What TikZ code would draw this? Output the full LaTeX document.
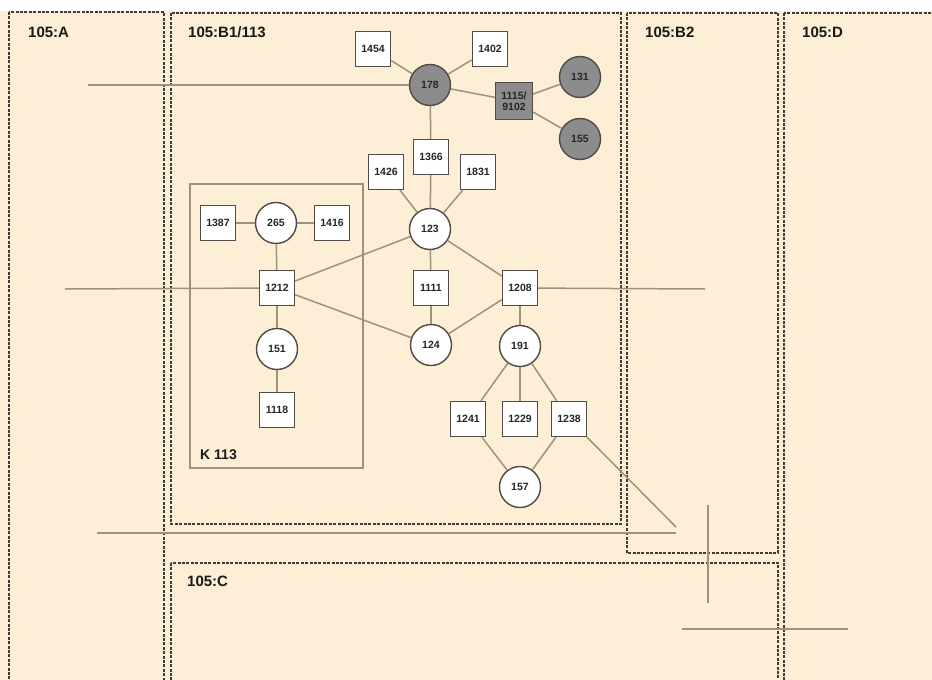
\documentclass[tikz,border=0pt]{standalone}
\usepackage{fontspec}
\setmainfont{Liberation Sans}
\definecolor{bg}{RGB}{253,239,213}
\definecolor{edgecol}{RGB}{160,146,120}
\definecolor{bordercol}{RGB}{65,60,55}
\definecolor{nodeborder}{RGB}{80,75,70}
\definecolor{grayfill}{RGB}{140,140,140}
\tikzset{
  region/.style={draw=bordercol, line width=2.6, dash pattern=on 3pt off 1.4pt},
  regionlabel/.style={anchor=base west, font=\fontsize{15}{15}\selectfont\bfseries, text=black!90, inner sep=0},
  sq/.style={draw=nodeborder, fill=white, minimum size=35, inner sep=0, line width=1.4, font=\fontsize{10.5}{11}\selectfont\bfseries, text=black!85},
  gsq/.style={sq, fill=grayfill, minimum size=37, align=center, font=\fontsize{10.5}{11}\selectfont\bfseries},
  cir/.style={circle, draw=nodeborder, fill=white, minimum size=41, inner sep=0, line width=1.4, font=\fontsize{10.5}{11}\selectfont\bfseries, text=black!85},
  gcir/.style={cir, fill=grayfill},
  edge/.style={draw=edgecol, line width=1.5},
}
\begin{document}
\begin{tikzpicture}[x=1pt,y=-1pt]
\useasboundingbox (0,0) rectangle (932,680);
\fill[white] (0,0) rectangle (932,680);
\fill[bg] (0,11) rectangle (932,680);

% regions
\draw[region] (9,12) rectangle (164,700);
\draw[region] (171,13) rectangle (621,524);
\draw[region] (627,13) rectangle (778,553);
\draw[region] (784,13) rectangle (945,700);
\draw[region] (171,563) rectangle (778,700);
\node[regionlabel] (lA) at (28,37) {105:A};
\node[regionlabel] (lB1) at (188,37) {105:B1/113};
\node[regionlabel] (lB2) at (645,37) {105:B2};
\node[regionlabel] (lD) at (802,37) {105:D};
\node[regionlabel] (lC) at (187,586) {105:C};

% K 113 box
\draw[edge, line width=1.2] (190,184) rectangle (363,468);
\node[regionlabel, font=\fontsize{14}{14}\selectfont\bfseries] (lK) at (200,459) {K 113};

% nodes
\node[sq] (n1454) at (373,49) {1454};
\node[sq] (n1402) at (490,49) {1402};
\node[gcir] (n178) at (430,85) {178};
\node[gsq] (n1115) at (514,101) {1115/\\9102};
\node[gcir] (n131) at (580,77) {131};
\node[gcir] (n155) at (580,139) {155};
\node[sq] (n1366) at (431,157) {1366};
\node[sq] (n1426) at (386,172) {1426};
\node[sq] (n1831) at (478,172) {1831};
\node[cir] (n123) at (430,229) {123};
\node[sq] (n1387) at (218,223) {1387};
\node[cir] (n265) at (276,223) {265};
\node[sq] (n1416) at (332,223) {1416};
\node[sq] (n1212) at (277,288) {1212};
\node[sq] (n1111) at (431,288) {1111};
\node[sq] (n1208) at (520,288) {1208};
\node[cir] (n151) at (277,349) {151};
\node[cir] (n124) at (431,345) {124};
\node[cir] (n191) at (520,346) {191};
\node[sq] (n1118) at (277,410) {1118};
\node[sq] (n1241) at (468,419) {1241};
\node[sq] (n1229) at (520,419) {1229};
\node[sq] (n1238) at (569,419) {1238};
\node[cir] (n157) at (520,487) {157};

% free ends
\coordinate (e178) at (88,85);
\coordinate (e1212) at (65,289);
\coordinate (e1208) at (705,289);
\coordinate (e1238) at (676,527);
\coordinate (h1a) at (97,533);
\coordinate (h1b) at (676,533);
\coordinate (v1a) at (708,505);
\coordinate (v1b) at (708,603);
\coordinate (h2a) at (682,629);
\coordinate (h2b) at (848,629);

% edges
\draw[edge] (n1454) -- (n178);
\draw[edge] (n1402) -- (n178);
\draw[edge] (n178) -- (n1115);
\draw[edge] (n1115) -- (n131);
\draw[edge] (n1115) -- (n155);
\draw[edge] (n178) -- (n1366);
\draw[edge] (n1366) -- (n123);
\draw[edge] (n1426) -- (n123);
\draw[edge] (n1831) -- (n123);
\draw[edge] (n1387) -- (n265);
\draw[edge] (n265) -- (n1416);
\draw[edge] (n265) -- (n1212);
\draw[edge] (n1212) -- (n123);
\draw[edge] (n1212) -- (n124);
\draw[edge] (n1212) -- (n151);
\draw[edge] (n151) -- (n1118);
\draw[edge] (n123) -- (n1111);
\draw[edge] (n1111) -- (n124);
\draw[edge] (n123) -- (n1208);
\draw[edge] (n124) -- (n1208);
\draw[edge] (n1208) -- (n191);
\draw[edge] (n191) -- (n1241);
\draw[edge] (n191) -- (n1229);
\draw[edge] (n191) -- (n1238);
\draw[edge] (n1241) -- (n157);
\draw[edge] (n1238) -- (n157);
\draw[edge] (e178) -- (n178);
\draw[edge] (e1212) -- (n1212);
\draw[edge] (n1208) -- (e1208);
\draw[edge] (n1238) -- (e1238);
\draw[edge] (h1a) -- (h1b);
\draw[edge] (v1a) -- (v1b);
\draw[edge] (h2a) -- (h2b);
\end{tikzpicture}
\end{document}
